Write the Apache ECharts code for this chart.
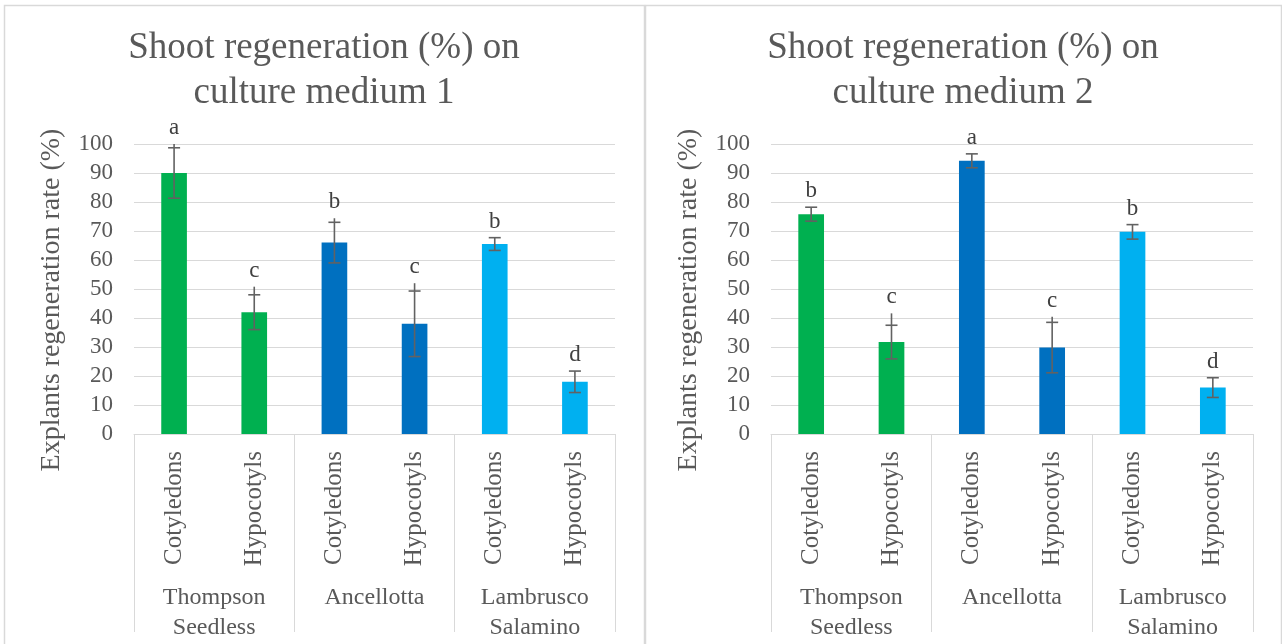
<!DOCTYPE html>
<html>
<head>
<meta charset="utf-8">
<title>Shoot regeneration</title>
<script src="https://cdn.jsdelivr.net/npm/echarts@6/dist/echarts.min.js"></script>
<style>
  html, body { margin: 0; padding: 0; background: #ffffff; }
  #chart { width: 1282px; height: 644px; }
</style>
</head>
<body>
<div id="chart"></div>
<script>
// Explant categories and cultivar groups
const explants = ['Cotyledons', 'Hypocotyls', 'Cotyledons', 'Hypocotyls', 'Cotyledons', 'Hypocotyls'];
const cultivars = ['Thompson\nSeedless', 'Ancellotta', 'Lambrusco\nSalamino'];
const yTicks = [0, 100, 10];

// Culture medium 1: mean regeneration (%), standard error, upper whisker end, significance letters
const medium1Mean = [90, 42, 66, 38, 65.5, 18];
const medium1Err = [8.7, 6, 7, 11.3, 2.2, 3.7];
const medium1Whisker = [100, 50.8, 74.4, 52, null, null];
const medium1Letters = ['a', 'c', 'b', 'c', 'b', 'd'];

// Culture medium 2
const medium2Mean = [75.8, 31.7, 94.2, 29.8, 69.7, 16];
const medium2Err = [2.4, 5.8, 2.4, 8.7, 2.5, 3.4];
const medium2Whisker = [null, 41.6, null, 40.4, null, null];
const medium2Letters = ['b', 'c', 'a', 'c', 'b', 'd'];

// One colour per cultivar
const cultivarColors = ['#00b050', '#0070c0', '#00b0f0'];

const FONT = '"Liberation Serif", "Times New Roman", serif';
const TEXT = '#595959';
const LINE = '#d9d9d9';

const chart = echarts.init(document.getElementById('chart'), null, { renderer: 'canvas' });

const grids = [
  { left: 134, width: 481, top: 144, bottom: 210 },
  { left: 771, width: 482, top: 144, bottom: 210 }
];

function barAxis(gi) {
  return {
    type: 'category', gridIndex: gi, position: 'bottom', data: explants,
    axisLine: { show: true, lineStyle: { color: LINE, width: 1 } },
    axisTick: { show: false },
    splitLine: { show: false },
    axisLabel: { rotate: 90, margin: 17, interval: 0, color: TEXT, fontFamily: FONT, fontSize: 25 }
  };
}
function groupAxis(gi) {
  return {
    type: 'category', gridIndex: gi, position: 'bottom', data: cultivars,
    axisLine: { show: false },
    axisTick: { show: true, interval: 0, length: 198, lineStyle: { color: LINE, width: 1 } },
    splitLine: { show: false },
    axisLabel: { interval: 0, margin: 149, color: TEXT, fontFamily: FONT, fontSize: 24, lineHeight: 30 }
  };
}
function valueAxis(gi) {
  return {
    type: 'value', gridIndex: gi, min: yTicks[0], max: yTicks[1], interval: yTicks[2],
    name: 'Explants regeneration rate (%)', nameLocation: 'middle', nameGap: 68,
    nameTextStyle: { color: TEXT, fontFamily: FONT, fontSize: 28, padding: [0, 22, 0, 0] },
    axisLine: { show: false }, axisTick: { show: false },
    splitLine: { lineStyle: { color: LINE, width: 1 } },
    axisLabel: { margin: 21, color: TEXT, fontFamily: FONT, fontSize: 23 }
  };
}

function barSeries(gi, means) {
  return {
    type: 'bar', xAxisIndex: gi * 2, yAxisIndex: gi, barWidth: '32%',
    data: means.map((v, i) => ({ value: v, itemStyle: { color: cultivarColors[Math.floor(i / 2)] } })),
    silent: true
  };
}

// Error bars with caps, plus the significance letter above each whisker
function errorSeries(gi, means, errs, whiskers, letters) {
  return {
    type: 'custom', xAxisIndex: gi * 2, yAxisIndex: gi, silent: true, z: 5,
    data: means.map((v, i) => [i, v, errs[i], whiskers[i] == null ? v + errs[i] : whiskers[i]]),
    renderItem: function (params, api) {
      const idx = api.value(0), v = api.value(1), e = api.value(2), w = api.value(3);
      const hi = api.coord([idx, v + e]);
      const lo = api.coord([idx, v - e]);
      const tip = api.coord([idx, w]);
      const half = 6;
      const stroke = { stroke: '#626262', lineWidth: 1.6 };
      return {
        type: 'group',
        children: [
          { type: 'line', shape: { x1: hi[0], y1: Math.min(tip[1], hi[1]), x2: lo[0], y2: lo[1] }, style: stroke },
          { type: 'line', shape: { x1: hi[0] - half, y1: hi[1], x2: hi[0] + half, y2: hi[1] }, style: stroke },
          { type: 'line', shape: { x1: lo[0] - half, y1: lo[1], x2: lo[0] + half, y2: lo[1] }, style: stroke },
          {
            type: 'text',
            style: {
              text: letters[params.dataIndex], x: hi[0], y: Math.min(tip[1], hi[1]) - 16,
              align: 'center', verticalAlign: 'middle',
              fill: '#404040', font: '23px ' + FONT
            }
          }
        ]
      };
    }
  };
}

function titleText(x, text) {
  return {
    type: 'text', x: x, y: 26, silent: true,
    style: { text: text, align: 'center', verticalAlign: 'top', fill: TEXT, font: '37px ' + FONT, lineHeight: 45 }
  };
}

chart.setOption({
  backgroundColor: '#ffffff',
  animation: false,
  grid: grids,
  xAxis: [barAxis(0), groupAxis(0), barAxis(1), groupAxis(1)],
  yAxis: [valueAxis(0), valueAxis(1)],
  series: [
    barSeries(0, medium1Mean),
    errorSeries(0, medium1Mean, medium1Err, medium1Whisker, medium1Letters),
    barSeries(1, medium2Mean),
    errorSeries(1, medium2Mean, medium2Err, medium2Whisker, medium2Letters)
  ],
  graphic: [
    { type: 'rect', silent: true, shape: { x: 4.5, y: 5.5, width: 640, height: 700 }, style: { fill: null, stroke: LINE, lineWidth: 1.5 } },
    { type: 'rect', silent: true, shape: { x: 645.5, y: 5.5, width: 636, height: 700 }, style: { fill: null, stroke: LINE, lineWidth: 1.5 } },
    titleText(324, 'Shoot regeneration (%) on\nculture medium 1'),
    titleText(963, 'Shoot regeneration (%) on\nculture medium 2')
  ]
});
</script>
</body>
</html>
